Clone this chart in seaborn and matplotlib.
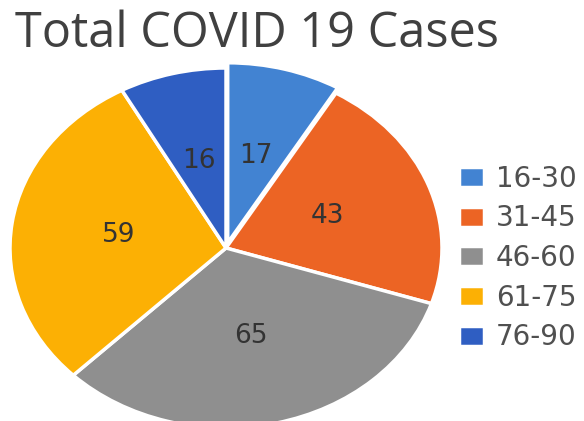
import numpy as np
import matplotlib
matplotlib.use("Agg")
import matplotlib.pyplot as plt
import seaborn as sns

# data
categories = ["16-30", "31-45", "46-60", "61-75", "76-90"]
cases = [17, 43, 65, 59, 16]
colors = ["#4283d2", "#ec6424", "#8f8f8f", "#fcb004", "#2f5ec2"]
explode = [0.03, 0, 0, 0, 0]
title = "Total COVID 19 Cases"

sns.set_theme(style="white")
plt.rcParams["font.family"] = ["DejaVu Sans"]

W, H = 584, 421
fig = plt.figure(figsize=(W / 100, H / 100), dpi=100)
cx, cy = 226, 248
rx, ry = 216, 180
ax = fig.add_axes([(cx - rx) / W, (H - cy - ry) / H, 2 * rx / W, 2 * ry / H])

wedges, _ = ax.pie(cases, colors=colors, startangle=90, counterclock=False,
                   explode=explode,
                   wedgeprops=dict(edgecolor="white", linewidth=2.5))
ax.set_aspect("auto")
ax.set_xlim(-1, 1)
ax.set_ylim(-1, 1)
ax.axis("off")

for w, v in zip(wedges, cases):
    ang = np.deg2rad((w.theta1 + w.theta2) / 2)
    x0, y0 = w.center
    ax.text(x0 + 0.5 * np.cos(ang), y0 + 0.5 * np.sin(ang), str(v),
            ha="center", va="center", fontsize=19, color="#333333")

fig.text(15 / W, 1 - 47 / H, title, fontsize=35, color="#404040",
         ha="left", va="baseline", family="Open Sans")

leg = fig.legend(wedges, categories, loc="center left",
                 bbox_to_anchor=(459 / W, 1 - 258 / H), frameon=False,
                 fontsize=20, handlelength=0.9, handleheight=0.72,
                 handletextpad=0.43, labelspacing=0.42, borderpad=0,
                 borderaxespad=0)
for t in leg.get_texts():
    t.set_color("#505050")

fig.savefig("out.png", dpi=100)
